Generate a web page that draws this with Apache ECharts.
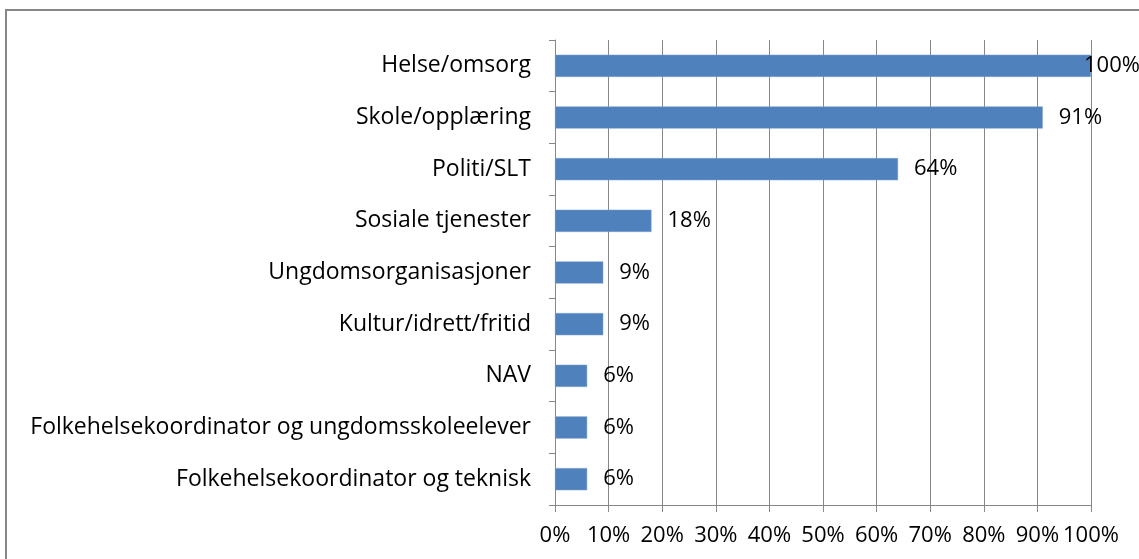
<!DOCTYPE html>
<html>
<head>
<meta charset="utf-8">
<script src="https://cdn.jsdelivr.net/npm/echarts@6/dist/echarts.min.js"></script>
<style>
  html, body { margin: 0; padding: 0; background: #fff; }
  #chart { width: 1139px; height: 559px; }
</style>
</head>
<body>
<div id="chart"></div>
<script>
const categories = [
  'Helse/omsorg',
  'Skole/opplæring',
  'Politi/SLT',
  'Sosiale tjenester',
  'Ungdomsorganisasjoner',
  'Kultur/idrett/fritid',
  'NAV',
  'Folkehelsekoordinator og ungdomsskoleelever',
  'Folkehelsekoordinator og teknisk'
];
const values = [100, 91, 64, 18, 9, 9, 6, 6, 6];

const gray = '#878787';
const font = 'Open Sans';
const fontSize = 22;

// label of a full bar sits over the bar end, like the original
const barData = values.map(v => v >= 100 ? { value: v, label: { distance: -7 } } : v);

const chart = echarts.init(document.getElementById('chart'));
chart.setOption({
  backgroundColor: '#fff',
  animation: false,
  graphic: [{
    type: 'rect',
    shape: { x: 6, y: 10, width: 1200, height: 600 },
    style: { fill: 'none', stroke: gray, lineWidth: 2 }
  }],
  grid: { left: 555, right: 48, top: 40, bottom: 54 },
  xAxis: {
    type: 'value',
    min: 0,
    max: 100,
    interval: 10,
    axisLine: { show: true, lineStyle: { color: gray, width: 1 } },
    axisTick: { show: true, length: 7, lineStyle: { color: gray } },
    splitLine: { show: true, lineStyle: { color: gray, width: 1 } },
    axisLabel: {
      formatter: '{value}%',
      color: '#000',
      fontFamily: font,
      fontSize: fontSize,
      margin: 20
    }
  },
  yAxis: {
    type: 'category',
    data: categories,
    inverse: true,
    axisLine: { show: true, lineStyle: { color: gray, width: 1 } },
    axisTick: { show: true, length: 6, interval: 0, lineStyle: { color: gray } },
    axisLabel: {
      color: '#000',
      fontFamily: font,
      fontSize: 23,
      margin: 24
    }
  },
  series: [{
    type: 'bar',
    data: barData,
    barWidth: '43%',
    itemStyle: { color: '#4F81BD', borderColor: '#7FA3D0', borderWidth: 0.5 },
    label: {
      show: true,
      position: 'right',
      distance: 16,
      formatter: '{c}%',
      color: '#000',
      fontFamily: font,
      fontSize: fontSize
    }
  }]
});
</script>
</body>
</html>
